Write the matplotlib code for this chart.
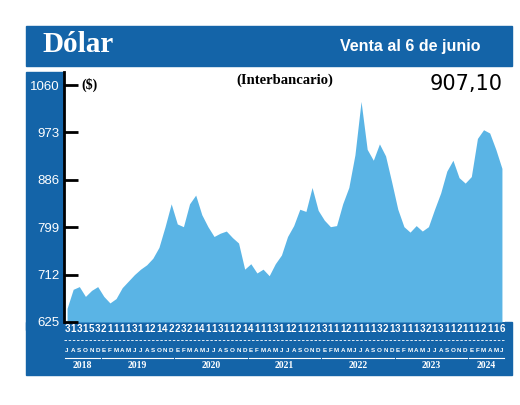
import matplotlib.pyplot as plt
import matplotlib.transforms as mtransforms
from matplotlib.patches import Rectangle
from matplotlib.lines import Line2D

# Datos mensuales, julio 2018 - junio 2024 (lectura aproximada)
valores = [
    650, 685, 690, 672, 683, 690,                          # 2018 jul-dic
    672, 660, 668, 688, 700, 712, 722, 730, 742, 762, 800, 842,   # 2019
    805, 800, 842, 858, 822, 800, 782, 788, 792, 780, 770, 722,   # 2020
    732, 715, 722, 710, 732, 748, 782, 802, 832, 828, 872, 830,   # 2021
    812, 800, 802, 842, 872, 932, 1030, 942, 922, 952, 930, 882,  # 2022
    832, 800, 790, 802, 792, 800, 832, 862, 902, 922, 890, 880,   # 2023
    892, 962, 978, 972, 942, 907,                          # 2024 ene-jun
]
meses = list("JASOND") + list("EFMAMJJASOND") * 5 + list("EFMAMJ")
dias = list("313153211113112142232141131121411131121121311121111321311132131121112111")
dias = (dias + ["1"] * 72)[:71] + ["6"]
anios = ["2018", "2019", "2020", "2021", "2022", "2023", "2024"]
ticks_y = [625, 712, 799, 886, 973, 1060]

azul = "#1464a8"
celeste = "#5ab4e5"

fig = plt.figure(figsize=(5.2, 4.05), dpi=100)
W, H = 520, 405

def fx(px):
    return px / W

def fy(py):
    return 1 - py / H

# cabecera
fig.patches.append(Rectangle((fx(26), fy(66)), fx(486), 40 / H, transform=fig.transFigure,
                             color=azul, zorder=-5))
fig.text(fx(42), fy(45), "Dólar", color="white", fontsize=21, fontweight="bold",
         family="Liberation Serif", va="center")
fig.text(fx(480), fy(47), "Venta al 6 de junio", color="white", fontsize=11.5,
         family="Liberation Sans", fontweight="bold", ha="right", va="center")
# franja izquierda y franja inferior
fig.patches.append(Rectangle((fx(26), fy(330)), fx(38), 258 / H, transform=fig.transFigure,
                             color=azul, zorder=-5))
fig.patches.append(Rectangle((fx(26), fy(375)), fx(486), 53 / H, transform=fig.transFigure,
                             color=azul, zorder=-5))

ax = fig.add_axes([fx(64), fy(322), fx(441), 250 / H])
ax.set_zorder(1)
x = list(range(len(valores)))
ax.fill_between(x, 625, valores, color=celeste, linewidth=0)
ax.set_xlim(-0.5, len(valores) - 0.5)
ax.set_ylim(625, 1084)
ax.set_xticks([])
ax.set_yticks(ticks_y)
ax.set_yticklabels([str(t) for t in ticks_y], color="white", fontsize=9.5,
                   family="Liberation Sans")
ax.tick_params(axis="y", length=10, width=2, direction="in", pad=3)
for s in ["top", "right", "bottom"]:
    ax.spines[s].set_visible(False)
ax.spines["left"].set_linewidth(2)
ax.set_facecolor("white")

ax.text(0.04, 0.95, "($)", transform=ax.transAxes, fontsize=10, fontweight="bold",
        family="Liberation Serif", va="center")
ax.text(0.5, 0.965, "(Interbancario)", transform=ax.transAxes, fontsize=10.5,
        fontweight="bold", family="Liberation Serif", ha="center", va="center")
ax.text(0.995, 0.95, "907,10", transform=ax.transAxes, fontsize=15,
        family="DejaVu Sans", ha="right", va="center")

tr = mtransforms.blended_transform_factory(ax.transData, fig.transFigure)
for i in x:
    fig.text(i, fy(329), dias[i], transform=tr, color="white", fontsize=7,
             family="Liberation Sans", ha="center", va="center", fontweight="bold")
    fig.text(i, fy(350), meses[i], transform=tr, color="white", fontsize=4.5,
             family="Liberation Sans", ha="center", va="center", fontweight="bold")
fig.lines.append(Line2D([fx(64), fx(505)], [fy(340), fy(340)], transform=fig.transFigure,
                        color="white", linewidth=0.6, linestyle=(0, (3, 2))))

# años
inicio = 0
for k, a in enumerate(anios):
    n = 6 if k in (0, len(anios) - 1) else 12
    fin = inicio + n - 1
    fig.text((inicio + fin) / 2, fy(366), a, transform=tr, color="white", fontsize=7,
             family="Liberation Serif", fontweight="bold", ha="center", va="center")
    fig.lines.append(Line2D([inicio - 0.3, fin + 0.3], [fy(358), fy(358)], transform=tr,
                            color="white", linewidth=0.8))
    inicio += n

fig.savefig("out.png", dpi=100)
